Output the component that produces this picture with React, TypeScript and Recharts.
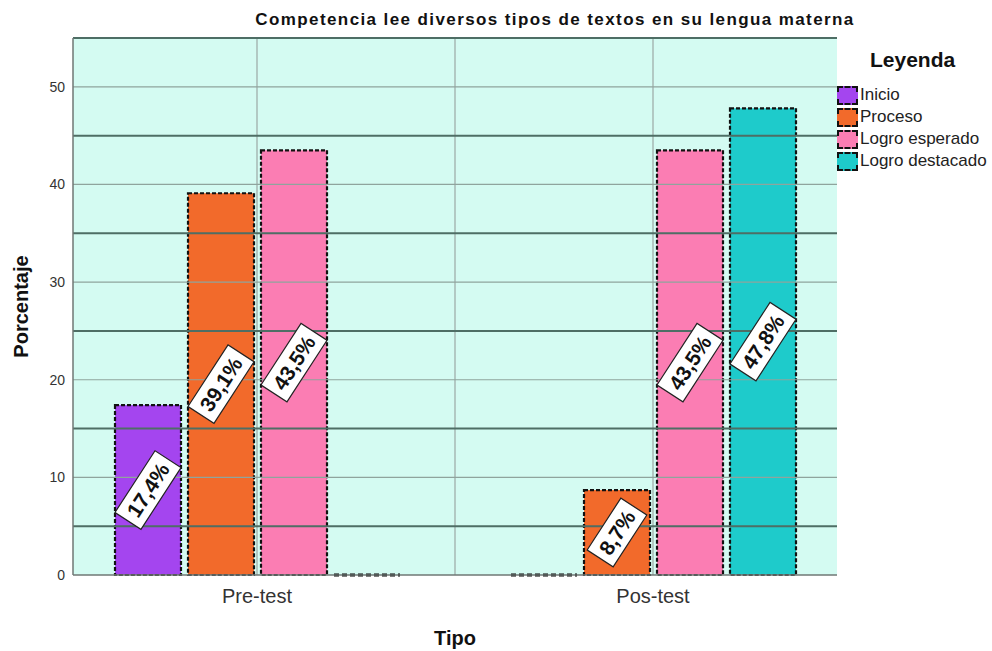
import React from 'react';
import {
  BarChart,
  Bar,
  XAxis,
  YAxis,
  CartesianGrid,
  LabelList,
  ReferenceLine,
} from 'recharts';

// Categorías y valores (porcentajes)
const categories = ['Pre-test', 'Pos-test'];
const inicio = [17.4, 0];
const proceso = [39.1, 8.7];
const logroEsperado = [43.5, 43.5];
const logroDestacado = [0, 47.8];

const seriesKeys = ['inicio', 'proceso', 'logroEsperado', 'logroDestacado'];
const seriesNames = ['Inicio', 'Proceso', 'Logro esperado', 'Logro destacado'];
const seriesColors = ['#a445ef', '#f26a2b', '#fb7db3', '#1ecbcb'];

const yTicks = [0, 10, 20, 30, 40, 50];
const gridLight = [10, 20, 30, 40, 50];
const gridDark = [5, 15, 25, 35, 45, 55];
// separador entre categorías (índice de categoría)
const vSeparators = [0.5];

const FONT = '"Liberation Sans", Arial, sans-serif';
const BAND_PAD = -14; // SPSS deja las categorías un poco fuera del área
const BAND = 396;

const data = categories.map((name, i) => ({
  name,
  inicio: inicio[i],
  proceso: proceso[i],
  logroEsperado: logroEsperado[i],
  logroDestacado: logroDestacado[i],
}));

const fmt = (v: number) => `${v.toFixed(1).replace('.', ',')}%`;

// ancho aproximado de texto bold
const textWidth = (s: string, fs: number) =>
  s.split('').reduce((w, c) => w + (c === ',' ? 0.278 : c === '%' ? 0.889 : 0.556), 0) * fs;

const DashedBar = (props: any) => {
  const { x, y, width, height, fill } = props;
  if (!height || height < 0.5) {
    return (
      <line x1={x} x2={x + width} y1={y} y2={y} stroke="#000" strokeWidth={3} strokeDasharray="5 3" />
    );
  }
  return (
    <rect
      x={x}
      y={y}
      width={width}
      height={height}
      fill={fill}
      stroke="#111"
      strokeWidth={2.2}
      strokeDasharray="4 2"
    />
  );
};

const RotatedLabel = (props: any) => {
  const vb = props.viewBox && props.viewBox.width != null ? props.viewBox : props;
  const { x, y, width, height } = vb;
  const value = props.value;
  if (!value) return null;
  const text = fmt(Number(value));
  const fs = 21;
  const w = textWidth(text, fs) + 14;
  const h = 31;
  const cx = x + width / 2;
  const cy = y + height / 2;
  return (
    <g transform={`translate(${cx},${cy}) rotate(-57)`}>
      <rect x={-w / 2} y={-h / 2} width={w} height={h} fill="#fff" stroke="#222" strokeWidth={1.2} />
      <text
        x={0}
        y={7.5}
        textAnchor="middle"
        fontSize={fs}
        fontWeight="bold"
        fontFamily={FONT}
        fill="#111"
      >
        {text}
      </text>
    </g>
  );
};

const Leyenda = () => (
  <div style={{ position: 'absolute', left: 837, top: 48, fontFamily: FONT }}>
    <div
      style={{
        position: 'absolute',
        left: 33,
        top: 0,
        fontSize: 21,
        fontWeight: 'bold',
        color: '#111',
        whiteSpace: 'nowrap',
      }}
    >
      Leyenda
    </div>
    {seriesNames.map((n, i) => (
      <div
        key={n}
        style={{ position: 'absolute', left: 0, top: 37 + i * 22, display: 'flex', alignItems: 'center', whiteSpace: 'nowrap' }}
      >
        <div
          style={{
            width: 17,
            height: 15,
            background: seriesColors[i],
            border: '2px dashed #111',
            marginRight: 2,
          }}
        />
        <span style={{ fontSize: 17, color: '#222', lineHeight: '20px' }}>{n}</span>
      </div>
    ))}
  </div>
);

export default function App() {
  const numDomain = [-0.5 - BAND_PAD / BAND, 1.5 + BAND_PAD / BAND];
  return (
    <div style={{ position: 'absolute', left: 0, top: 0, width: 992, height: 651, background: '#fff' }}>
      <div
        style={{
          position: 'absolute',
          left: 205,
          width: 700,
          top: 10,
          textAlign: 'center',
          fontFamily: FONT,
          fontWeight: 'bold',
          fontSize: 17,
          letterSpacing: 1.4,
          lineHeight: '20px',
          color: '#111',
        }}
      >
        Competencia lee diversos tipos de textos en su lengua materna
      </div>
      <BarChart
        width={992}
        height={651}
        data={data}
        margin={{ top: 38, right: 155, bottom: 0, left: 0 }}
        barSize={66}
        barGap={7}
        style={{ fontFamily: FONT }}
      >
        <CartesianGrid horizontal={false} vertical={false} fill="#d4fbf2" />
        <XAxis
          dataKey="name"
          padding={{ left: BAND_PAD, right: BAND_PAD }}
          height={76}
          tickLine={false}
          axisLine={false}
          tickMargin={8}
          tick={{ fontSize: 20, fill: '#333', fontFamily: FONT }}
          label={{ value: 'Tipo', position: 'insideBottom', offset: 6, fontSize: 20, fontWeight: 'bold', fill: '#111', fontFamily: FONT }}
        />
        <XAxis xAxisId="num" type="number" domain={numDomain} hide allowDataOverflow />
        <YAxis
          width={73}
          domain={[0, 55]}
          ticks={yTicks}
          tickLine={false}
          axisLine={{ stroke: '#6f7775', strokeWidth: 1.5 }}
          tick={{ fontSize: 14, fill: '#333', fontFamily: FONT }}
          label={{ value: 'Porcentaje', angle: -90, position: 'center', dx: -16, fontSize: 20, fontWeight: 'bold', fill: '#111', fontFamily: FONT }}
        />
        {categories.map((c) => (
          <ReferenceLine key={`c${c}`} x={c} stroke="#9aa8a4" strokeWidth={1.2} />
        ))}
        {vSeparators.map((v) => (
          <ReferenceLine key={`v${v}`} xAxisId="num" x={v} stroke="#9aa8a4" strokeWidth={1.2} />
        ))}
        {gridLight.map((v) => (
          <ReferenceLine key={`l${v}`} y={v} stroke="#8fa49d" strokeWidth={1.2} />
        ))}
        {gridDark.map((v) => (
          <ReferenceLine key={`d${v}`} y={v} stroke="#4e6e65" strokeWidth={2} />
        ))}
        <ReferenceLine y={0} stroke="#6f7775" strokeWidth={1.5} />
        {seriesKeys.map((k, i) => (
          <Bar
            key={k}
            dataKey={k}
            name={seriesNames[i]}
            fill={seriesColors[i]}
            shape={DashedBar}
            isAnimationActive={false}
          >
            <LabelList dataKey={k} content={RotatedLabel} />
          </Bar>
        ))}
      </BarChart>
      <Leyenda />
    </div>
  );
}
